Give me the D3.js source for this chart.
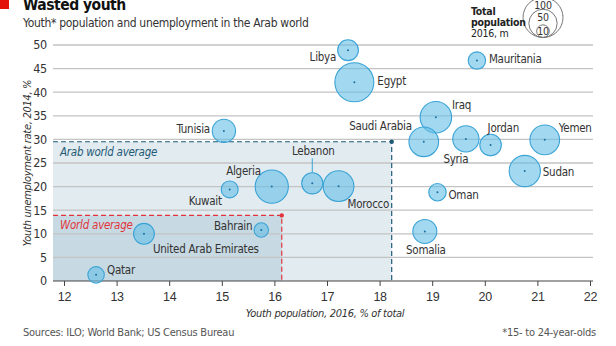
<!DOCTYPE html>
<html>
<head>
<meta charset="utf-8">
<script src="https://cdn.jsdelivr.net/npm/d3@7"></script>
<style>
  html, body { margin: 0; padding: 0; background: #fff; }
  svg { display: block; font-family: "DejaVu Sans Condensed", "DejaVu Sans", sans-serif; font-stretch: condensed; }
  svg text { letter-spacing: -0.25px; }
</style>
</head>
<body>
<div id="chart"></div>
<script>
// Arab countries: youth share of population (2016, %), youth unemployment (2014, %), population (2016, m)
const countries = ['Libya', 'Egypt', 'Mauritania', 'Iraq', 'Saudi Arabia', 'Syria', 'Jordan', 'Yemen',
  'Sudan', 'Oman', 'Somalia', 'Tunisia', 'Kuwait', 'Algeria', 'Lebanon', 'Morocco', 'Bahrain',
  'United Arab Emirates', 'Qatar'];
const youthShare = [17.40, 17.52, 19.85, 19.07, 18.84, 19.64, 20.11, 21.14,
  20.76, 19.10, 18.86, 15.04, 15.15, 15.95, 16.72, 17.22, 15.75, 13.52, 12.61];
const unemployment = [48.9, 42.1, 46.7, 34.7, 29.5, 30.1, 28.8, 29.9,
  23.3, 18.8, 10.5, 31.8, 19.4, 20.0, 20.7, 20.1, 10.8, 10.0, 1.3];
const population = [27, 95, 19, 62, 55, 43, 29, 55,
  61, 19, 36, 34, 18, 69, 28, 59, 13, 27, 17];

const arabAverage = { share: 18.23, rate: 29.5 };
const worldAverage = { share: 16.14, rate: 13.9 };

const xTicks = [12, 13, 14, 15, 16, 17, 18, 19, 20, 21, 22];
const yTicks = [0, 5, 10, 15, 20, 25, 30, 35, 40, 45, 50];
const legendSizes = [100, 50, 10];

// label placement relative to the bubble centre: [dx, dy, anchor]
const labelPos = {
  'Libya': [-12, 7, 'end'],
  'Egypt': [23, -1, 'start'],
  'Mauritania': [12, -2, 'start'],
  'Iraq': [16, -12, 'start'],
  'Saudi Arabia': [-12, -16, 'end'],
  'Syria': [-10, 20, 'middle'],
  'Jordan': [-3, -17, 'start'],
  'Yemen': [14, -12, 'start'],
  'Sudan': [18, 1, 'start'],
  'Oman': [11, 3, 'start'],
  'Somalia': [1, 19, 'middle'],
  'Tunisia': [-14, -2, 'end'],
  'Kuwait': [-8, 12, 'end'],
  'Algeria': [-11, -16, 'end'],
  'Lebanon': [1, -32, 'middle'],
  'Morocco': [9, 18, 'start'],
  'Bahrain': [-9, -4, 'end'],
  'United Arab Emirates': [9, 15, 'start'],
  'Qatar': [11, -5, 'start']
};

const width = 616;
const height = 346;
const plotLeft = 53;
const plotRight = 593;

const svg = d3.select('#chart')
  .append('svg')
  .attr('width', width)
  .attr('height', height);

const x = d3.scaleLinear().domain([12, 22]).range([64, 590]);
const y = d3.scaleLinear().domain([0, 50]).range([281, 45]);
const r = d3.scaleSqrt().domain([0, 100]).range([0, 20]);

// Title block
svg.append('rect').attr('x', 0).attr('y', 0).attr('width', 9).attr('height', 9).attr('fill', '#e3120b');
svg.append('text')
  .attr('x', 23).attr('y', 10)
  .attr('font-size', 15.5).attr('font-weight', 'bold').attr('fill', '#111')
  .style('letter-spacing', '-0.5px')
  .text('Wasted youth');
svg.append('text')
  .attr('x', 23).attr('y', 27)
  .attr('font-size', 12).attr('fill', '#333')
  .style('letter-spacing', '-0.3px')
  .text('Youth* population and unemployment in the Arab world');

// Shaded average regions
svg.append('rect')
  .attr('x', plotLeft).attr('y', y(arabAverage.rate))
  .attr('width', x(arabAverage.share) - plotLeft)
  .attr('height', y(0) - y(arabAverage.rate))
  .attr('fill', '#e2ebf0');
svg.append('rect')
  .attr('x', plotLeft).attr('y', y(worldAverage.rate))
  .attr('width', x(worldAverage.share) - plotLeft)
  .attr('height', y(0) - y(worldAverage.rate))
  .attr('fill', '#c7d9e2');

// Gridlines
svg.append('g')
  .selectAll('line')
  .data(yTicks.filter(d => d > 0))
  .enter()
  .append('line')
  .attr('x1', plotLeft).attr('x2', plotRight)
  .attr('y1', d => y(d)).attr('y2', d => y(d))
  .attr('stroke', '#c3c3c3')
  .attr('stroke-width', 1.3);

// Y axis labels
svg.append('g')
  .selectAll('text')
  .data(yTicks)
  .enter()
  .append('text')
  .attr('x', 47).attr('y', d => y(d))
  .attr('dy', '0.35em')
  .attr('text-anchor', 'end')
  .attr('font-size', 12.5).attr('fill', '#333')
  .text(d => d);

// X axis
const xAxis = svg.append('g')
  .attr('transform', `translate(0, ${y(0)})`)
  .call(d3.axisBottom(x).tickValues(xTicks).tickSize(5).tickPadding(6));
xAxis.select('.domain').remove();
xAxis.selectAll('line').attr('stroke', '#444');
xAxis.selectAll('text').attr('font-size', 12.5).attr('fill', '#333').attr('font-family', null);
svg.append('line')
  .attr('x1', plotLeft).attr('x2', plotRight)
  .attr('y1', y(0)).attr('y2', y(0))
  .attr('stroke', '#444').attr('stroke-width', 1.2);

// Average reference lines
function averageLines(avg, colour) {
  const g = svg.append('g');
  g.append('path')
    .attr('d', `M${plotLeft},${y(avg.rate)}H${x(avg.share)}V${y(0)}`)
    .attr('fill', 'none')
    .attr('stroke', colour)
    .attr('stroke-width', 1.2)
    .attr('stroke-dasharray', '5,3');
  g.append('circle')
    .attr('cx', x(avg.share)).attr('cy', y(avg.rate)).attr('r', 2.2)
    .attr('fill', colour);
}
averageLines(arabAverage, '#1f5a76');
averageLines(worldAverage, '#e2343c');

svg.append('text')
  .attr('x', 60).attr('y', y(arabAverage.rate) + 10)
  .attr('dy', '0.35em')
  .attr('font-size', 11.5).attr('font-style', 'italic').attr('fill', '#1f5a76')
  .text('Arab world average');
svg.append('text')
  .attr('x', 60).attr('y', y(worldAverage.rate) + 10)
  .attr('dy', '0.35em')
  .attr('font-size', 11.5).attr('font-style', 'italic').attr('fill', '#e2343c')
  .text('World average');

// Bubbles
const data = countries.map((name, i) => ({
  name,
  share: youthShare[i],
  rate: unemployment[i],
  pop: population[i]
}));

const bubbles = svg.append('g')
  .selectAll('g')
  .data(data)
  .enter()
  .append('g')
  .attr('transform', d => `translate(${x(d.share)}, ${y(d.rate)})`);

bubbles.append('circle')
  .attr('r', d => r(d.pop))
  .attr('fill', 'rgba(100, 190, 230, 0.6)')
  .attr('stroke', '#3aa3d6')
  .attr('stroke-width', 1.1);

bubbles.append('circle')
  .attr('r', 1)
  .attr('fill', '#1a6fa0');

// Lebanon leader line
const leb = data.find(d => d.name === 'Lebanon');
svg.append('line')
  .attr('x1', x(leb.share)).attr('x2', x(leb.share))
  .attr('y1', y(leb.rate) - 25).attr('y2', y(leb.rate) - r(leb.pop))
  .attr('stroke', '#3aa3d6').attr('stroke-width', 1);

bubbles.append('text')
  .attr('x', d => labelPos[d.name][0])
  .attr('y', d => labelPos[d.name][1])
  .attr('dy', '0.35em')
  .attr('text-anchor', d => labelPos[d.name][2])
  .attr('font-size', 11.5).attr('fill', '#333')
  .text(d => d.name);

// Axis titles
svg.append('text')
  .attr('transform', `translate(27, ${163}) rotate(-90)`)
  .attr('text-anchor', 'middle')
  .attr('dy', '0.35em')
  .attr('font-size', 11).attr('font-style', 'italic').attr('fill', '#333')
  .style('letter-spacing', '-0.3px')
  .text('Youth unemployment rate, 2014, %');
svg.append('text')
  .attr('x', 325).attr('y', 313)
  .attr('dy', '0.35em')
  .attr('text-anchor', 'middle')
  .attr('font-size', 11).attr('font-style', 'italic').attr('fill', '#333')
  .style('letter-spacing', '-0.3px')
  .text('Youth population, 2016, % of total');

// Size legend
const legendX = 543;
const legendBase = 37.5;
const legend = svg.append('g');
legend.selectAll('circle')
  .data(legendSizes)
  .enter()
  .append('circle')
  .attr('cx', legendX)
  .attr('cy', d => legendBase - r(d))
  .attr('r', d => r(d))
  .attr('fill', 'none')
  .attr('stroke', '#777')
  .attr('stroke-width', 1);
legend.selectAll('text')
  .data(legendSizes)
  .enter()
  .append('text')
  .attr('x', legendX)
  .attr('y', d => legendBase - 2 * r(d) + (d === 10 ? 6.5 : 8))
  .attr('dy', '0.35em')
  .attr('text-anchor', 'middle')
  .attr('font-size', 10.5).attr('fill', '#333')
  .text(d => d);

const legendTitle = svg.append('text')
  .attr('x', 471).attr('font-size', 10.5).attr('fill', '#222');
legendTitle.append('tspan').attr('x', 471).attr('y', 15).attr('font-weight', 'bold').text('Total');
legendTitle.append('tspan').attr('x', 471).attr('y', 26).attr('font-weight', 'bold').text('population');
legendTitle.append('tspan').attr('x', 471).attr('y', 37).text('2016, m');

// Footer
svg.append('text')
  .attr('x', 23).attr('y', 332)
  .attr('dy', '0.35em')
  .attr('font-size', 11).attr('fill', '#555')
  .text('Sources: ILO; World Bank; US Census Bureau');
svg.append('text')
  .attr('x', 596).attr('y', 332)
  .attr('dy', '0.35em')
  .attr('text-anchor', 'end')
  .attr('font-size', 11).attr('fill', '#555')
  .text('*15- to 24-year-olds');
</script>
</body>
</html>
